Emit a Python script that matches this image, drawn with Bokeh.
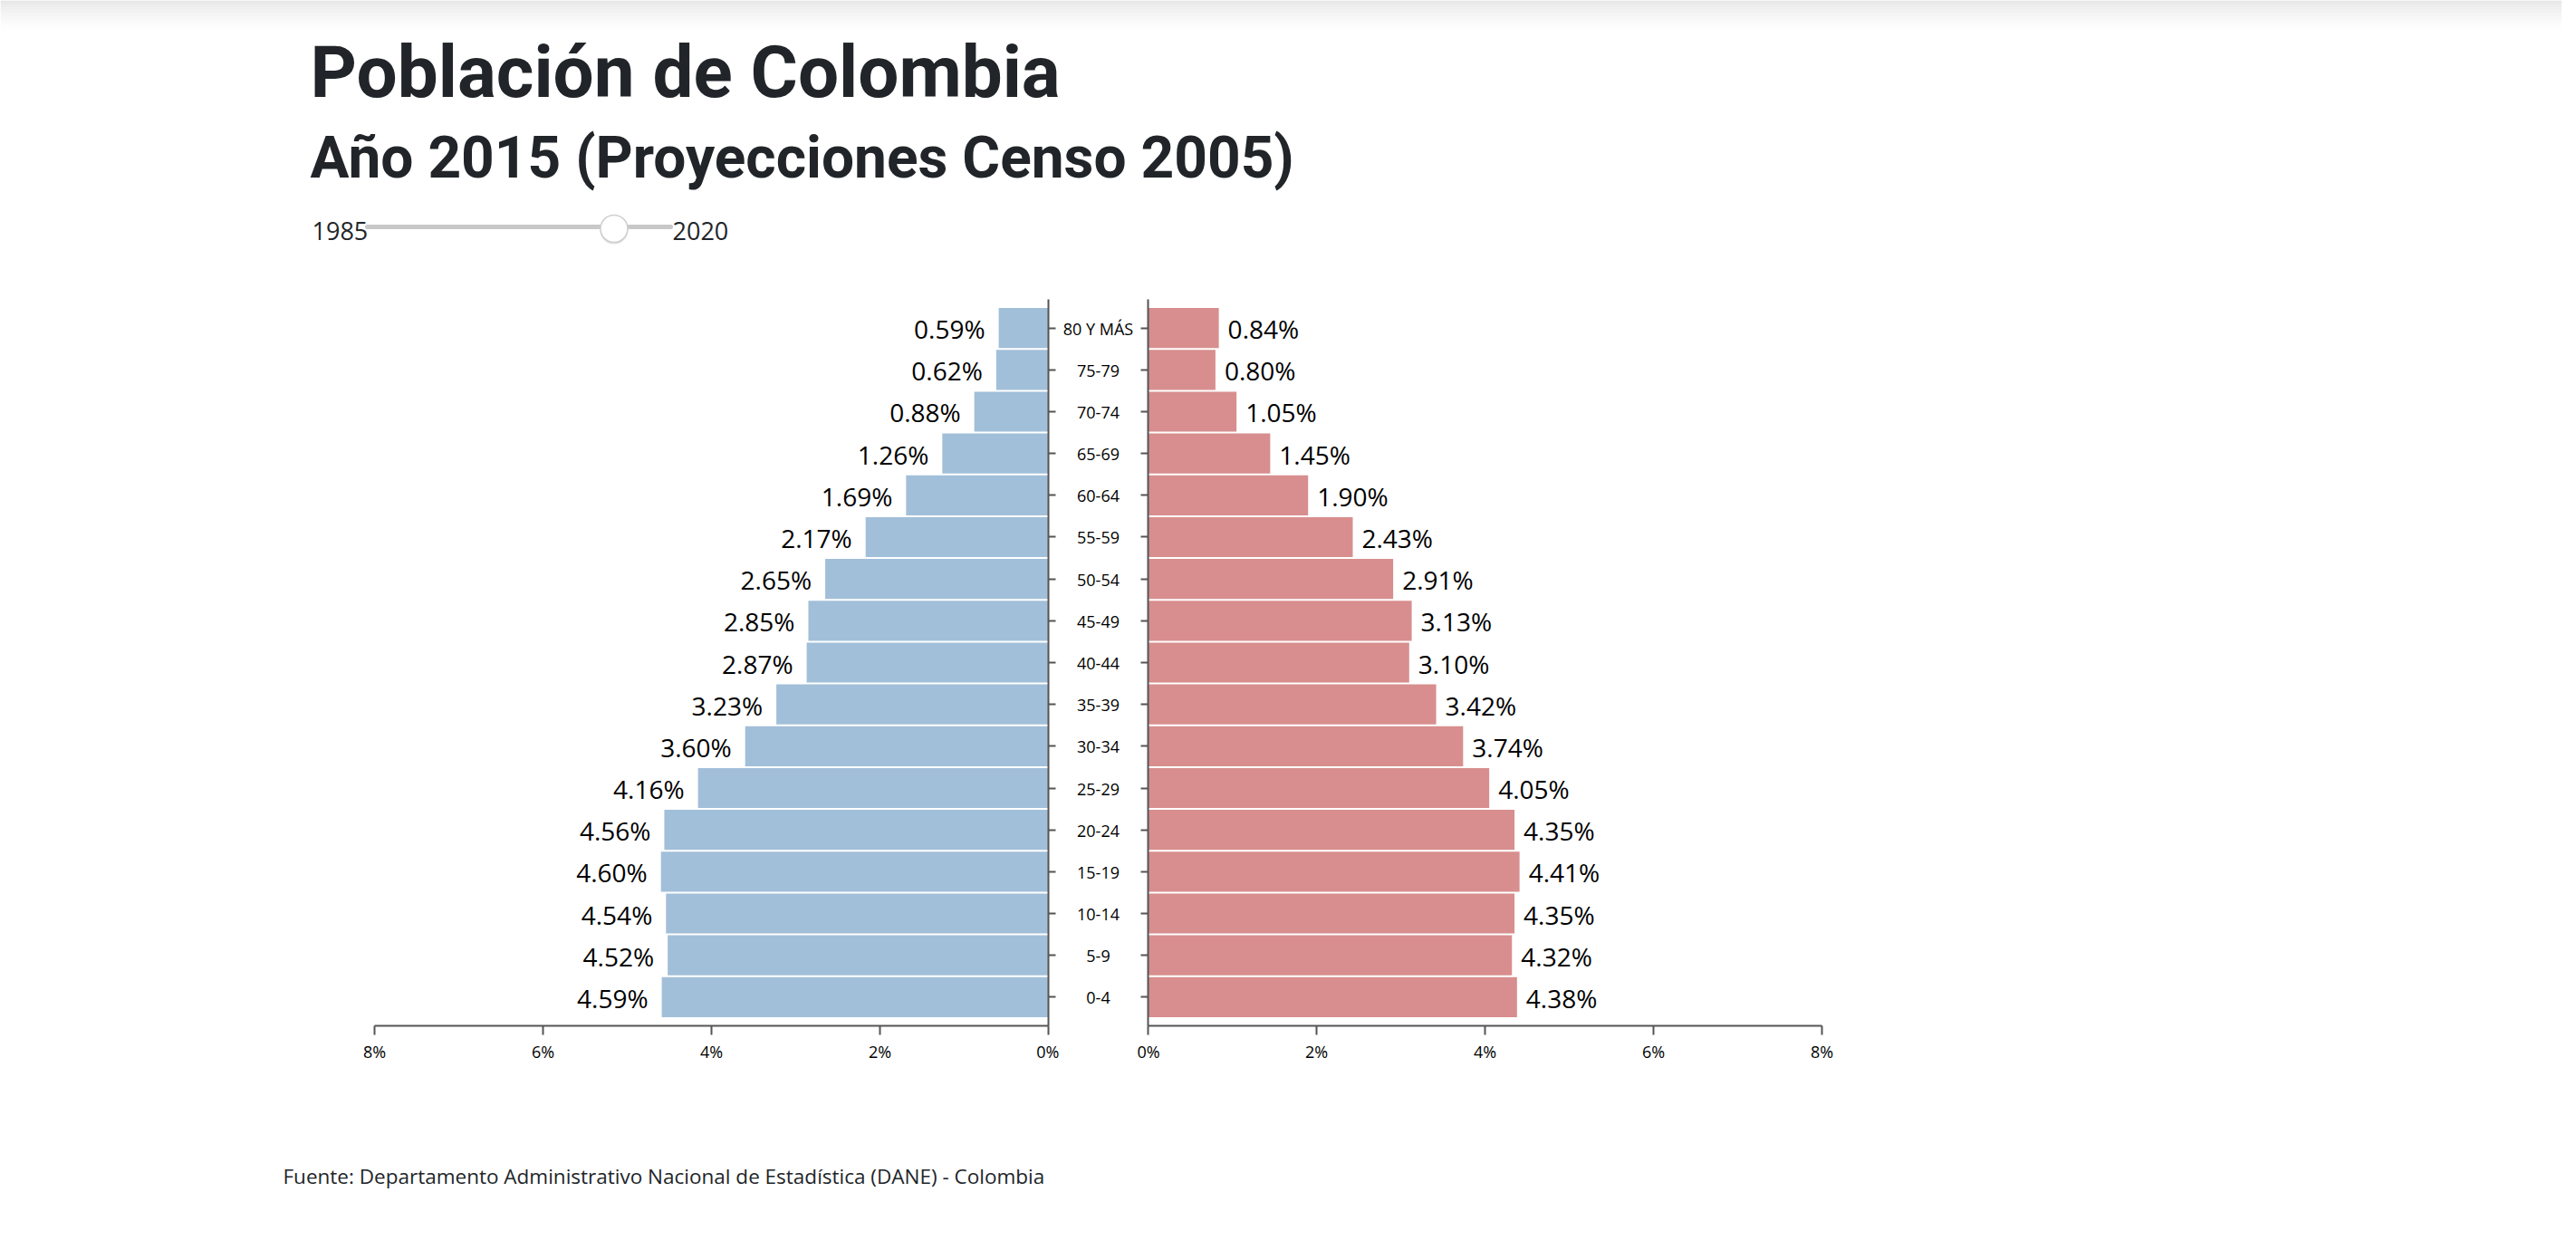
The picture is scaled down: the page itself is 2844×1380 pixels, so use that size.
from bokeh.plotting import figure
from bokeh.layouts import column, row
from bokeh.models import Range1d, FactorRange, FixedTicker, PrintfTickFormatter, ColumnDataSource
from bokeh.core.properties import value
from bokeh.embed import file_html
from bokeh.resources import INLINE

# ---------------- data ----------------
title_text = "Población de Colombia"
subtitle_text = "Año 2015 (Proyecciones Censo 2005)"
source_text = "Fuente: Departamento Administrativo Nacional de Estadística (DANE) - Colombia"
slider_min, slider_max, slider_year = 1985, 2020, 2015

age_groups = ["80 Y MÁS", "75-79", "70-74", "65-69", "60-64", "55-59", "50-54",
              "45-49", "40-44", "35-39", "30-34", "25-29", "20-24", "15-19",
              "10-14", "5-9", "0-4"]
hombres = [0.59, 0.62, 0.88, 1.26, 1.69, 2.17, 2.65, 2.85, 2.87, 3.23, 3.60,
           4.16, 4.56, 4.60, 4.54, 4.52, 4.59]
mujeres = [0.84, 0.80, 1.05, 1.45, 1.90, 2.43, 2.91, 3.13, 3.10, 3.42, 3.74,
           4.05, 4.35, 4.41, 4.35, 4.32, 4.38]
pct_ticks = [0, 2, 4, 6, 8]
pct_max = 8

# ---------------- styles ----------------
W = 2828
HDR_H = 292
FRAME_W, FRAME_H = 744, 802
TOP_B, BOT_B = 38, 60
SIDE_B = 12
MID_W = 86
BLUE = "#a2bfd9"
RED = "#d88e8e"
AXIS = "#555555"
DARK = "#212529"
OPEN = value("Open Sans")


def blank(p):
    p.outline_line_color = None
    p.xgrid.visible = False
    p.ygrid.visible = False
    p.background_fill_color = "white"
    p.border_fill_color = "white"


# ---------------- header ----------------
hdr = figure(width=W, height=HDR_H, x_range=Range1d(0, W), y_range=Range1d(HDR_H, 0),
             x_axis_type=None, y_axis_type=None, min_border=0,
             output_backend="svg", toolbar_location=None)
blank(hdr)

# soft top shadow
for i in range(18):
    y0 = 2 * i
    yc = y0 + 1
    v = int(round(255 - 28 * (1 - yc / 36.0) ** 1.5))
    col = "#%02x%02x%02x" % (v, v, v)
    hdr.quad(left=0, right=W, top=y0, bottom=y0 + 2, fill_color=col, line_color=None)

hdr.text(x=[342], y=[79], text=[title_text], text_font=value("Roboto"),
         text_font_size="80px", text_font_style="bold", text_color=DARK,
         text_baseline="alphabetic", text_align="left")
hdr.text(x=[342], y=[174], text=[subtitle_text], text_font=value("Roboto"),
         text_font_size="64px", text_font_style="bold", text_color=DARK,
         text_baseline="alphabetic", text_align="left")

# slider
track_x0, track_x1, track_y, knob_w = 405, 740, 250, 30
hdr.text(x=[344], y=[254], text=[str(slider_min)], text_font=OPEN, text_font_size="27px",
         text_color=DARK, text_baseline="alphabetic", text_align="left")
hdr.text(x=[track_x1 + 2], y=[254], text=[str(slider_max)], text_font=OPEN, text_font_size="27px",
         text_color=DARK, text_baseline="alphabetic", text_align="left")
hdr.line(x=[track_x0, track_x1], y=[track_y, track_y], line_width=5, line_color="#c8c8c8",
         line_cap="round")
frac = (slider_year - slider_min) / (slider_max - slider_min)
knob_x = track_x0 + knob_w / 2 + frac * (track_x1 - track_x0 - knob_w) - 4
hdr.scatter(x=[knob_x], y=[track_y + 3.5], size=31, fill_color="#bdbdbd", fill_alpha=0.45,
            line_color=None)
hdr.scatter(x=[knob_x], y=[track_y + 2], size=30, fill_color="white", line_color="#cfcfcf",
            line_width=1.5)

# ---------------- chart ----------------
factors = age_groups[::-1]
yr = FactorRange(factors=factors, range_padding=0.185, range_padding_units="absolute")

src = ColumnDataSource(dict(
    age=age_groups,
    h=hombres,
    m=mujeres,
    hl=["%.2f%%" % v for v in hombres],
    ml=["%.2f%%" % v for v in mujeres],
))


def style_axes(p):
    for ax in p.xaxis:
        ax.ticker = FixedTicker(ticks=pct_ticks)
        ax.formatter = PrintfTickFormatter(format="%d%%")
        ax.axis_line_color = AXIS
        ax.axis_line_width = 2
        ax.major_tick_line_color = AXIS
        ax.major_tick_line_width = 2
        ax.major_tick_out = 10
        ax.major_tick_in = 0
        ax.minor_tick_line_color = None
        ax.major_label_text_font = "Open Sans"
        ax.major_label_text_font_size = "18px"
        ax.major_label_text_color = "black"
        ax.major_label_standoff = 6
    for ax in p.yaxis:
        ax.axis_line_color = AXIS
        ax.axis_line_width = 2
        ax.major_tick_line_color = AXIS
        ax.major_tick_line_width = 2
        ax.major_tick_out = 8
        ax.major_tick_in = 0
        ax.minor_tick_line_color = None
        ax.major_label_text_font_size = "0px"
        ax.major_label_text_color = None
        ax.major_label_standoff = 0


left = figure(frame_width=FRAME_W, frame_height=FRAME_H,
              min_border_left=413, min_border_right=SIDE_B,
              min_border_top=TOP_B, min_border_bottom=BOT_B,
              x_range=Range1d(pct_max, 0), y_range=yr, y_axis_location="right",
              output_backend="svg", toolbar_location=None)
blank(left)
style_axes(left)
left.hbar(y="age", left=0, right="h", height=0.957, source=src,
          fill_color=BLUE, line_color=None)
left.text(x="h", y="age", text="hl", source=src, x_offset=-15, y_offset=1,
          text_align="right", text_baseline="middle", text_font=OPEN,
          text_font_size="28px", text_color="black")

mid = figure(frame_width=MID_W, frame_height=FRAME_H,
             min_border_left=0, min_border_right=0,
             min_border_top=TOP_B, min_border_bottom=BOT_B,
             x_range=Range1d(-1, 1), y_range=yr, x_axis_type=None, y_axis_type=None,
             output_backend="svg", toolbar_location=None)
blank(mid)
mid.text(x=0, y="age", text="age", source=src, text_align="center", text_baseline="middle",
         text_font=OPEN, text_font_size="18px", text_color="black", y_offset=1)

right = figure(frame_width=FRAME_W, frame_height=FRAME_H,
               min_border_left=SIDE_B, min_border_right=40,
               min_border_top=TOP_B, min_border_bottom=BOT_B,
               x_range=Range1d(0, pct_max), y_range=yr,
               output_backend="svg", toolbar_location=None)
blank(right)
style_axes(right)
right.hbar(y="age", left=0, right="m", height=0.957, source=src,
           fill_color=RED, line_color=None)
right.text(x="m", y="age", text="ml", source=src, x_offset=10, y_offset=1,
           text_align="left", text_baseline="middle", text_font=OPEN,
           text_font_size="28px", text_color="black")

# ---------------- footer ----------------
ftr = figure(width=W, height=130, x_range=Range1d(0, W), y_range=Range1d(130, 0),
             x_axis_type=None, y_axis_type=None, min_border=0,
             output_backend="svg", toolbar_location=None)
blank(ftr)
ftr.text(x=[312], y=[106], text=[source_text], text_font=OPEN, text_font_size="22.5px",
         text_color=DARK, text_baseline="middle", text_align="left")

layout = column(hdr, row(left, mid, right), ftr)
open("out.html", "w").write(file_html(layout, INLINE))
